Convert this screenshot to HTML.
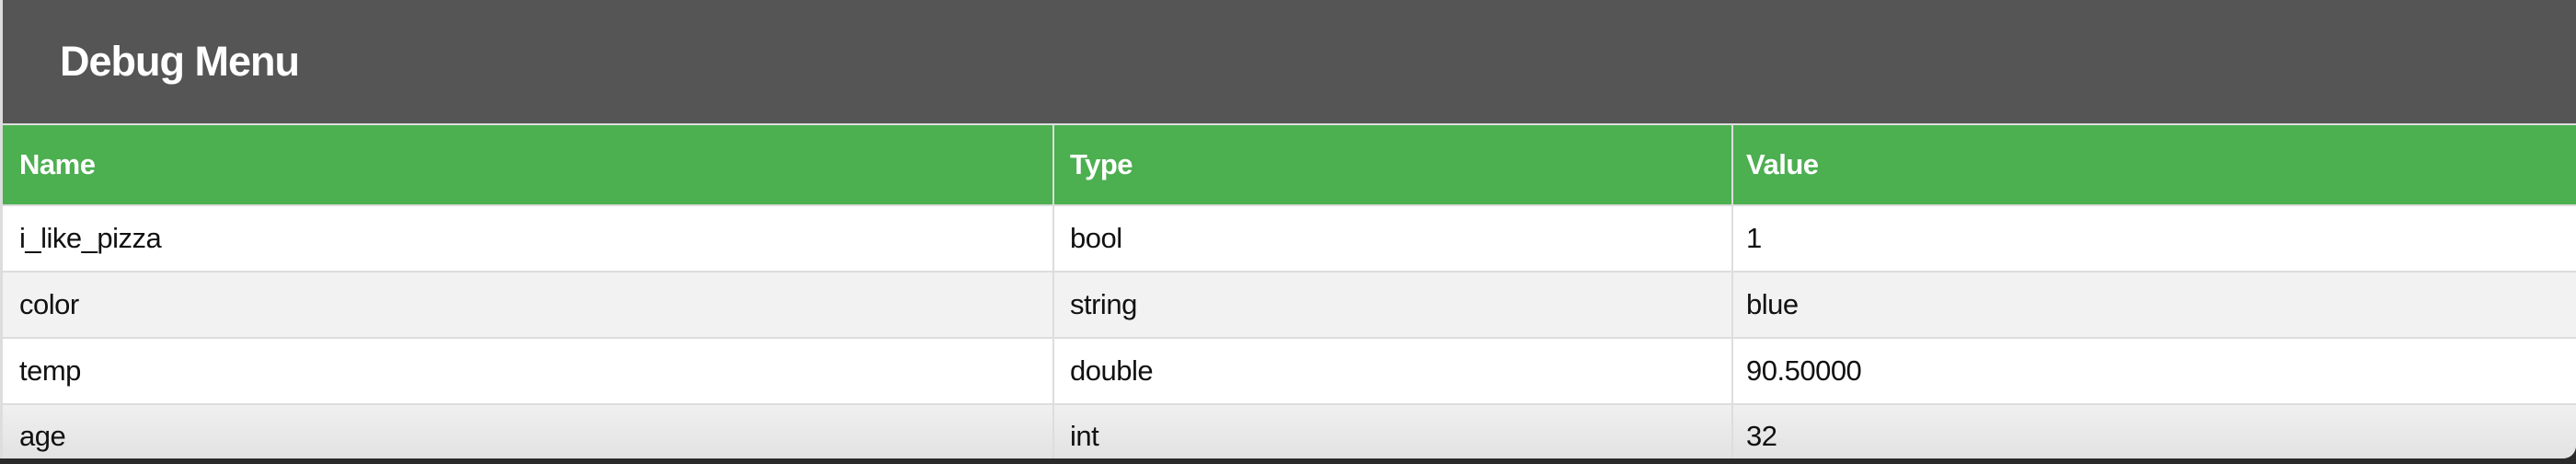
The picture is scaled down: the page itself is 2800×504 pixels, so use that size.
<!DOCTYPE html>
<html><head><meta charset="utf-8"><style>
html,body{margin:0;padding:0;width:2800px;height:504px;overflow:hidden;background:#2a2a2a;font-family:"Liberation Sans",sans-serif;}
.wrap{position:absolute;left:0;top:0;width:2800px;height:498px;background:#fff;border-left:3px solid #ddd;box-sizing:border-box;border-bottom-right-radius:14px;overflow:hidden;}
.hdr{position:absolute;left:0;top:0;width:2800px;height:134px;background:#555;}
.hdr span{position:absolute;left:62px;top:41px;color:#fff;font-weight:bold;font-size:45px;letter-spacing:-1px;}
.line{position:absolute;left:0;width:2800px;background:#ddd;}
.row{position:absolute;left:0;width:2800px;}
.cell{position:absolute;top:0;height:100%;display:flex;align-items:center;font-size:31px;color:#111;letter-spacing:-0.5px;}
.vd{position:absolute;top:136px;height:362px;width:2px;background:#ddd;}
</style></head><body>
<div class="wrap">
<div class="hdr"><span>Debug Menu</span></div>
<div class="line" style="top:134px;height:2px"></div>
<div class="row" style="top:136px;height:86px;background:#4caf50">
 <div class="cell" style="left:18px;color:#fff;font-weight:bold">Name</div>
 <div class="cell" style="left:1160px;color:#fff;font-weight:bold">Type</div>
 <div class="cell" style="left:1895px;color:#fff;font-weight:bold">Value</div>
</div>
<div class="line" style="top:222px;height:2px"></div>
<div class="row" style="top:224px;height:70px;background:#fff">
 <div class="cell" style="left:18px">i_like_pizza</div>
 <div class="cell" style="left:1160px">bool</div>
 <div class="cell" style="left:1895px">1</div>
</div>
<div class="line" style="top:294px;height:2px"></div>
<div class="row" style="top:296px;height:70px;background:#f2f2f2">
 <div class="cell" style="left:18px">color</div>
 <div class="cell" style="left:1160px">string</div>
 <div class="cell" style="left:1895px">blue</div>
</div>
<div class="line" style="top:366px;height:2px"></div>
<div class="row" style="top:368px;height:70px;background:#fff">
 <div class="cell" style="left:18px">temp</div>
 <div class="cell" style="left:1160px">double</div>
 <div class="cell" style="left:1895px">90.50000</div>
</div>
<div class="line" style="top:438px;height:2px"></div>
<div class="row" style="top:440px;height:58px;background:linear-gradient(#f0f0f0,#e2e2e2)">
 <div class="cell" style="left:18px;height:68px">age</div>
 <div class="cell" style="left:1160px;height:68px">int</div>
 <div class="cell" style="left:1895px;height:68px">32</div>
</div>
<div class="vd" style="left:1141px"></div>
<div class="vd" style="left:1879px"></div>
</div>
</body></html>
